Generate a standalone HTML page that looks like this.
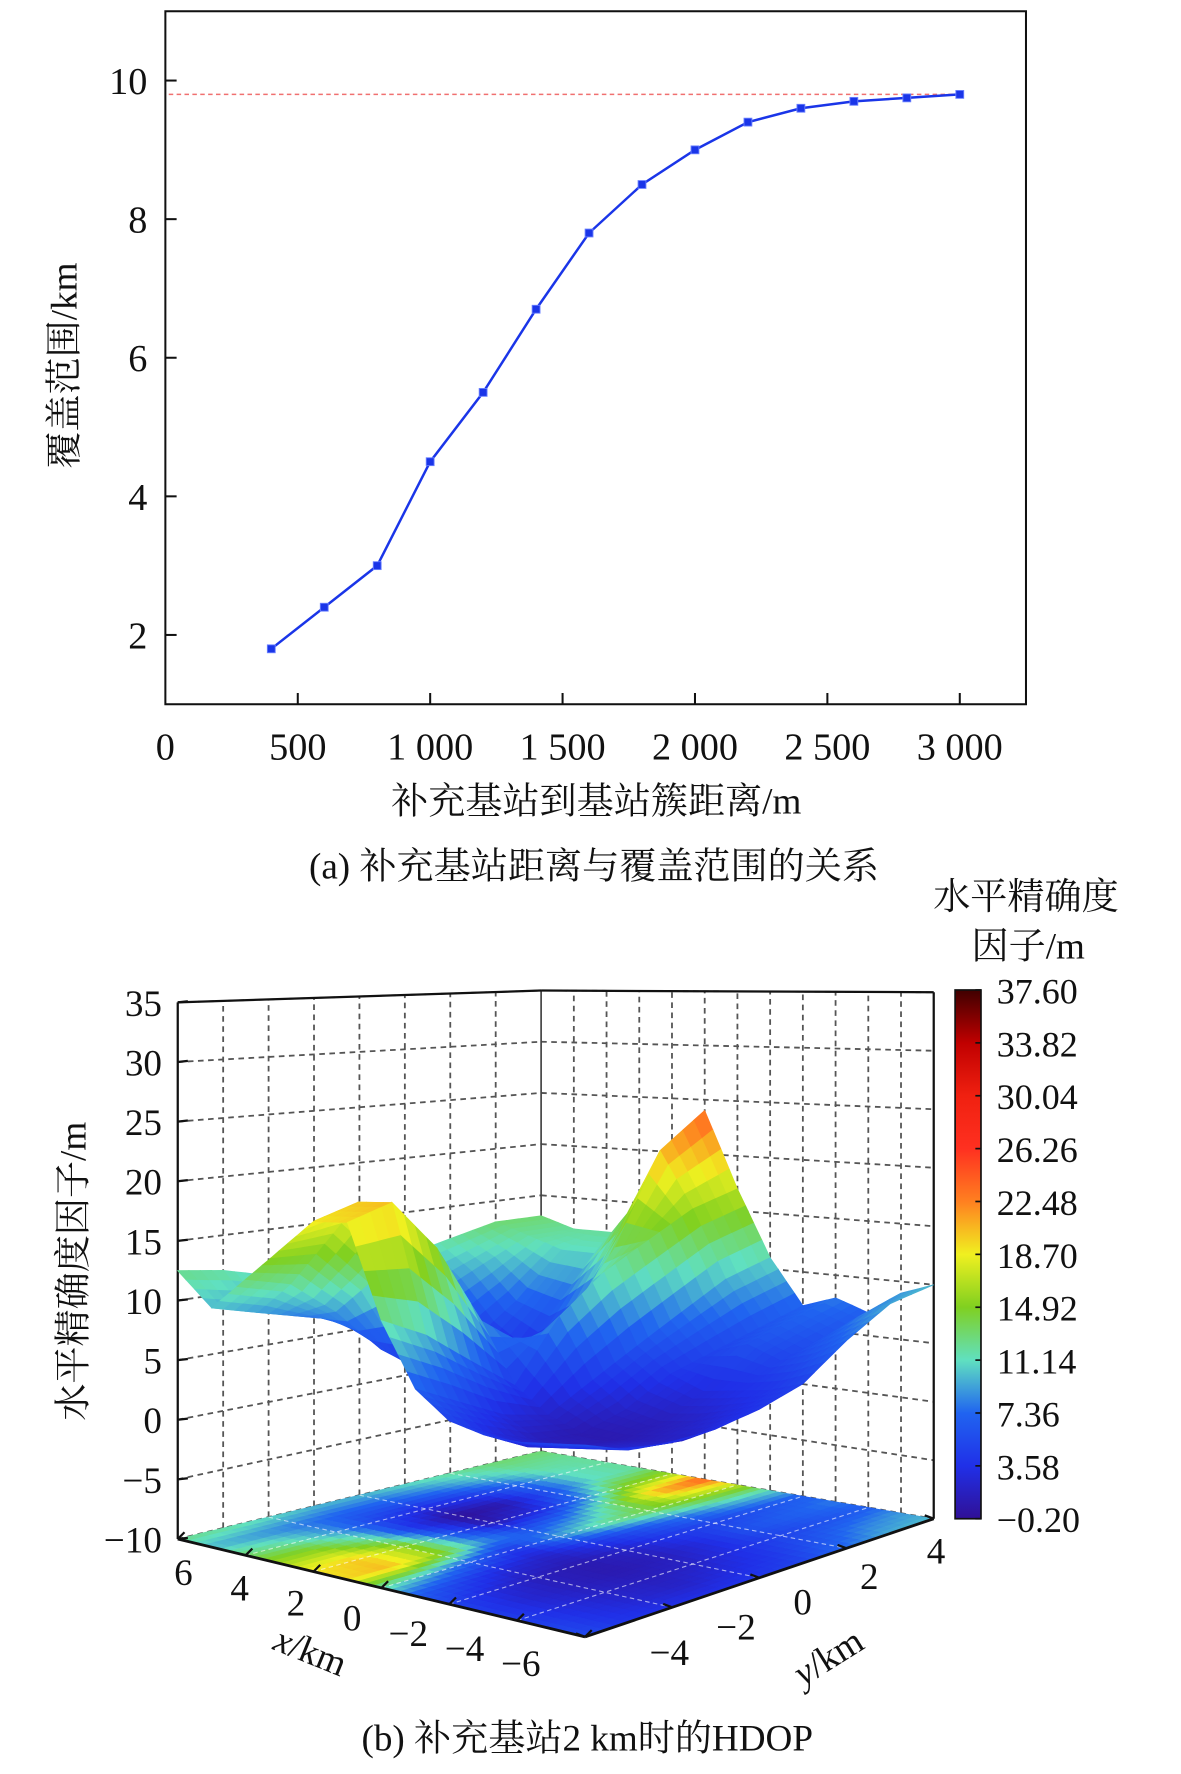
<!DOCTYPE html>
<html><head><meta charset="utf-8">
<style>
html,body{margin:0;padding:0;background:#fff;}
svg{display:block;}
text{font-family:"Liberation Serif","Noto Serif CJK SC",serif;fill:#111;}
</style></head>
<body>
<svg id="fig" width="1181" height="1774" viewBox="0 0 1049.8 1576.9" preserveAspectRatio="none" xmlns="http://www.w3.org/2000/svg">
<g id="chartA"></g>
<g id="chartB"></g>
</svg>
<script>
// ---------- Chart (a) data ----------
const distances = [400,600,800,1000,1200,1400,1600,1800,2000,2200,2400,2600,2800,3000];
const coverage = [1.8,2.4,3.0,4.5,5.5,6.7,7.8,8.5,9.0,9.4,9.6,9.7,9.75,9.8];
const xTicksA = [0,500,1000,1500,2000,2500,3000];
const xTickLabelsA = ["0","500","1 000","1 500","2 000","2 500","3 000"];
const yTicksA = [2,4,6,8,10];
const refLevel = 9.8;

// ---------- Chart (b) data ----------
const gridX = [6,5,4,3,2,1,0,-1,-2,-3,-4,-5,-6];
const gridY = [-4,-3,-2,-1,0,1,2,3,4];
const hdopZ = [
 [12.5,10,13,16,19,19.5,12,7,5,4.5,4.5,5,5.5],
 [12,9,12,16,20,20.5,10,5,3,2.5,3,3.5,4],
 [11,8,9,12,16,16,7,3,1.5,1.5,2,2.5,3.5],
 [10,7,5,4,7,9,4,2,1,1,1.5,2,3.5],
 [10,7,3,0,1,6,9,4,2,1.5,2,3,4],
 [11,8,4,1,3,8,12,6,4,3,3.5,4,5],
 [12,10,7,6,8,13,14,8,5,6,5,6,7.5],
 [13,12,11,11,15,21,16,10,6,7,6,8,9.5],
 [13,12,12,12,16,24,17,11,7,8,7,9,10]
];
const zTicks = [35,30,25,20,15,10,5,0,-5,-10];
const xTicksB = [6,4,2,0,-2,-4,-6];
const yTicksB = [-4,-2,0,2,4];
const cbarValues = [37.60,33.82,30.04,26.26,22.48,18.70,14.92,11.14,7.36,3.58,-0.20];
const cbarLabels = ["37.60","33.82","30.04","26.26","22.48","18.70","14.92","11.14","7.36","3.58","−0.20"];

const NS="http://www.w3.org/2000/svg";
function mk(tag,attrs,parent){const e=document.createElementNS(NS,tag);for(const k in attrs)e.setAttribute(k,attrs[k]);parent.appendChild(e);return e;}

// ===== Chart A =====
(function(){
 const g=document.getElementById('chartA');
 const L=147,R=912,T=10,B=626;
 const xs=v=>L+v/3250*(R-L);
 const ys=v=>B-(v-1)/10*(B-T);
 const frame=mk('rect',{x:L,y:T,width:R-L,height:B-T,fill:'none',stroke:'#111','stroke-width':1.8},g);
 
 
 xTicksA.forEach((t,i)=>{
  if(t>0){const tk=mk('line',{x1:xs(t),x2:xs(t),y1:B,y2:B-10,stroke:'#111','stroke-width':1.8},g);
  
  }
  const lb=mk('text',{x:xs(t),y:B+49,'text-anchor':'middle','font-size':34},g);
  lb.textContent=xTickLabelsA[i];
  
  
 });
 yTicksA.forEach(t=>{
  const tk=mk('line',{x1:L,x2:L+10,y1:ys(t),y2:ys(t),stroke:'#111','stroke-width':1.8},g);
  
  
  const lb=mk('text',{x:L-16,y:ys(t)+12,'text-anchor':'end','font-size':34},g);
  lb.textContent=String(t);
  
  
 });
 const ref=mk('line',{x1:L+3,x2:xs(3000),y1:ys(refLevel),y2:ys(refLevel),stroke:'#f07070','stroke-width':1.3,'stroke-dasharray':'4,3'},g);
 
 
 const pts=distances.map((d,i)=>xs(d)+','+ys(coverage[i])).join(' ');
 const pl=mk('polyline',{points:pts,fill:'none',stroke:'#1a35e8','stroke-width':2.2},g);
 
 
 distances.forEach((d,i)=>{
  const m=mk('rect',{x:xs(d)-3.5,y:ys(coverage[i])-3.5,width:7,height:7,fill:'#1a35e8',stroke:'#6a80ff','stroke-width':0.8},g);
  
  
 });
 const yt=mk('text',{x:0,y:0,'text-anchor':'middle','font-size':33,transform:'translate(68,325) rotate(-90)'},g);
 yt.textContent='覆盖范围/km';
 
 
 const xt=mk('text',{x:530,y:723,'text-anchor':'middle','font-size':33},g);
 xt.textContent='补充基站到基站簇距离/m';
 
 
 const cap=mk('text',{x:528,y:781,'text-anchor':'middle','font-size':33},g);
 cap.textContent='(a) 补充基站距离与覆盖范围的关系';
 
 
})();

// ===== Chart B =====
(function(){
 const g=document.getElementById('chartB');
 const A=[158,1368],Bp=[520,1455],C=[830,1350],D=[481,1290];
 const sA=10.6,sB=11.0,sC=10.4,sD=9.1;
 function proj(x,y,z){
  const u=(6-x)/12, v=(y+4)/8;
  const w=[(1-u)*(1-v),u*(1-v),u*v,(1-u)*v];
  const px=A[0]*w[0]+Bp[0]*w[1]+C[0]*w[2]+D[0]*w[3];
  const py=A[1]*w[0]+Bp[1]*w[1]+C[1]*w[2]+D[1]*w[3];
  const s=sA*w[0]+sB*w[1]+sC*w[2]+sD*w[3];
  return [px,py-(z+10)*s];
 }
 const stops=[[-0.2,[48,16,150]],[3.58,[32,48,232]],[7.36,[32,100,240]],[11.14,[96,224,192]],[14.92,[128,208,32]],[18.70,[240,240,32]],[22.48,[255,128,32]],[26.26,[255,48,32]],[30.04,[240,32,16]],[33.82,[192,0,0]],[37.6,[64,0,0]]];
 function col(z){
  if(z<=stops[0][0])return 'rgb('+stops[0][1]+')';
  for(let i=1;i<stops.length;i++){
   if(z<=stops[i][0]){const a=stops[i-1],b=stops[i];const t=(z-a[0])/(b[0]-a[0]);
    return 'rgb('+a[1].map((c,k)=>Math.round(c+(b[1][k]-c)*t)).join(',')+')';}
  }
  return 'rgb('+stops[stops.length-1][1]+')';
 }
 const P=p=>p[0].toFixed(1)+','+p[1].toFixed(1);
 function line(p,q,attrs,name){const l=mk('line',Object.assign({x1:p[0],y1:p[1],x2:q[0],y2:q[1]},attrs),g);
  
  return l;}
 const dash={stroke:'#555','stroke-width':1.6,'stroke-dasharray':'5,4'};
 zTicks.forEach(z=>{
  line(proj(6,-4,z),proj(6,4,z),dash,'left-wall-gridline');
  line(proj(6,4,z),proj(-6,4,z),dash,'right-wall-gridline');
 });
 [-3,-2,-1,0,1,2,3].forEach(y=>line(proj(6,y,-10),proj(6,y,35),dash,'left-wall-vgridline'));
 [5,4,3,2,1,0,-1,-2,-3,-4,-5].forEach(x=>line(proj(x,4,-10),proj(x,4,35),dash,'right-wall-vgridline'));
 const N=4, nx=gridX.length, ny=gridY.length;
 function zAt(fi,fj){
  const i0=Math.min(Math.floor(fi),nx-2), j0=Math.min(Math.floor(fj),ny-2);
  const ti=fi-i0, tj=fj-j0;
  return hdopZ[j0][i0]*(1-ti)*(1-tj)+hdopZ[j0][i0+1]*ti*(1-tj)+hdopZ[j0+1][i0]*(1-ti)*tj+hdopZ[j0+1][i0+1]*ti*tj;
 }
 const xOf=fi=>6-fi, yOf=fj=>-4+fj;
 const fl=mk('g',{},g);
 
 
 for(let a=0;a<(nx-1)*N;a++)for(let b=0;b<(ny-1)*N;b++){
  const fi=a/N,fj=b/N,d=1/N;
  const zc=zAt(fi+d/2,fj+d/2);
  const poly=[proj(xOf(fi),yOf(fj),-10),proj(xOf(fi+d),yOf(fj),-10),proj(xOf(fi+d),yOf(fj+d),-10),proj(xOf(fi),yOf(fj+d),-10)];
  const c=col(zc);
  mk('polygon',{points:poly.map(P).join(' '),fill:c,stroke:c,'stroke-width':0.6},fl);
 }
 const fdash={stroke:'rgba(255,255,255,0.6)','stroke-width':1,'stroke-dasharray':'4,3'};
 [4,2,0,-2,-4].forEach(x=>line(proj(x,-4,-10),proj(x,4,-10),fdash,'floor-gridline'));
 [-2,0,2].forEach(y=>line(proj(6,y,-10),proj(-6,y,-10),fdash,'floor-gridline'));
 const solid={stroke:'#111','stroke-width':2};
 line(proj(6,-4,-10),proj(6,-4,35),solid,'z-axis-line');
 line(proj(6,4,-10),proj(6,4,35),{stroke:'#444','stroke-width':1.5},'back-corner-line');
 line(proj(-6,4,-10),proj(-6,4,35),solid,'right-edge-line');
 line(proj(6,-4,35),proj(6,4,35),solid,'top-left-edge');
 line(proj(6,4,35),proj(-6,4,35),solid,'top-right-edge');
 line(proj(6,-4,-10),proj(-6,-4,-10),{stroke:'#111','stroke-width':2.5},'x-axis-line');
 line(proj(-6,-4,-10),proj(-6,4,-10),{stroke:'#111','stroke-width':2.5},'y-axis-line');
 const sf=mk('g',{},g);
 
 
 const quads=[];
 for(let a=0;a<(nx-1)*N;a++)for(let b=0;b<(ny-1)*N;b++){
  const fi=a/N,fj=b/N,d=1/N;
  const z00=zAt(fi,fj),z10=zAt(fi+d,fj),z11=zAt(fi+d,fj+d),z01=zAt(fi,fj+d);
  const poly=[proj(xOf(fi),yOf(fj),z00),proj(xOf(fi+d),yOf(fj),z10),proj(xOf(fi+d),yOf(fj+d),z11),proj(xOf(fi),yOf(fj+d),z01)];
  const u=(fi+d/2)/12, v=(fj+d/2)/8;
  quads.push({poly,z:(z00+z10+z11+z01)/4,k:u-v});
 }
 quads.sort((p,q)=>p.k-q.k);
 quads.forEach(q=>{const c=col(q.z);
  mk('polygon',{points:q.poly.map(P).join(' '),fill:c,stroke:c,'stroke-width':0.7},sf);});
 zTicks.forEach(z=>{
  const p=proj(6,-4,z);
  line(p,[p[0]+9,p[1]-1],{stroke:'#111','stroke-width':2},'z-tick');
  const t=mk('text',{x:p[0]-14,y:p[1]+12,'text-anchor':'end','font-size':33},g);
  t.textContent=String(z).replace('-','−');
  
  
 });
 xTicksB.forEach(x=>{
  const p=proj(x,-4,-10);
  line(p,[p[0]+6,p[1]-6],{stroke:'#111','stroke-width':2},'x-tick');
  const f=(6-x)/12;
  const t=mk('text',{x:163+f*300,y:1409+f*81,'text-anchor':'middle','font-size':33},g);
  t.textContent=String(x).replace('-','−');
  
  
 });
 yTicksB.forEach(y=>{
  const p=proj(-6,y,-10);
  line(p,[p[0]-8,p[1]-3],{stroke:'#111','stroke-width':2},'y-tick');
  const f=(y+4)/8;
  const t=mk('text',{x:595+f*237,y:1480-f*90,'text-anchor':'middle','font-size':33},g);
  t.textContent=String(y).replace('-','−');
  
  
 });
 const xt=mk('text',{x:0,y:0,'text-anchor':'middle','font-size':33,transform:'translate(272,1478) rotate(22)'},g);
 xt.innerHTML='<tspan font-style="italic">x</tspan>/km';
 
 
 const yt=mk('text',{x:0,y:0,'text-anchor':'middle','font-size':33,transform:'translate(742,1482) rotate(-32)'},g);
 yt.innerHTML='<tspan font-style="italic">y</tspan>/km';
 
 
 const zt=mk('text',{x:0,y:0,'text-anchor':'middle','font-size':33,transform:'translate(76,1130) rotate(-90)'},g);
 zt.textContent='水平精确度因子/m';
 
 
 const cbT=880,cbB=1350,cbL=849,cbR=872;
 const defs=mk('defs',{},g);
 const gr=mk('linearGradient',{id:'cbg',x1:0,y1:1,x2:0,y2:0},defs);
 stops.forEach(s=>mk('stop',{offset:((s[0]+0.2)/37.8).toFixed(4),'stop-color':'rgb('+s[1]+')'},gr));
 const cb=mk('rect',{x:cbL,y:cbT,width:cbR-cbL,height:cbB-cbT,fill:'url(#cbg)',stroke:'#111','stroke-width':1.5},g);
 
 
 cbarValues.forEach((v,i)=>{
  const y=cbB-(v+0.2)/37.8*(cbB-cbT);
  line([cbR-5,y],[cbR,y],{stroke:'#111','stroke-width':1.5},'colorbar-tick');
  const t=mk('text',{x:cbL+37,y:y+12,'font-size':32},g);
  t.textContent=cbarLabels[i];
  
  
 });
 const c1=mk('text',{x:912,y:808,'text-anchor':'middle','font-size':33},g);
 c1.textContent='水平精确度';
 
 
 const c2=mk('text',{x:914,y:852,'text-anchor':'middle','font-size':33},g);
 c2.textContent='因子/m';
 
 
 const cap=mk('text',{x:522,y:1556,'text-anchor':'middle','font-size':33},g);
 cap.textContent='(b) 补充基站2 km时的HDOP';
 
 
})();
</script>
</body></html>
